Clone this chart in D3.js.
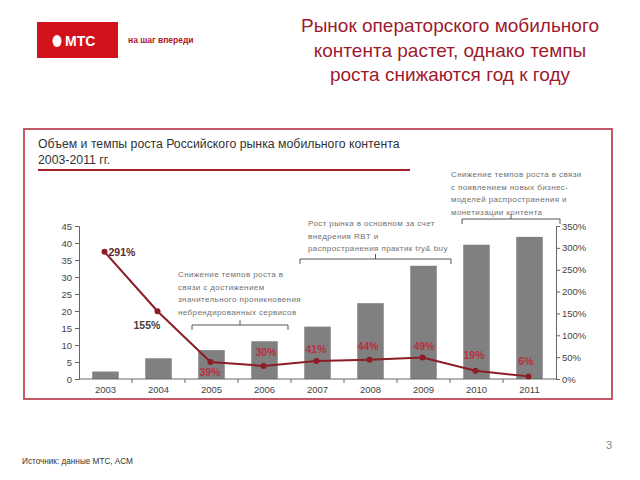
<!DOCTYPE html>
<html>
<head>
<meta charset="utf-8">
<script src="https://cdn.jsdelivr.net/npm/d3@7"></script>
<style>
  body { margin: 0; background: #fff; }
  svg { font-family: "Liberation Sans", Arial, sans-serif; }
  .axis path, .axis line { stroke: #666; }
  .axis text { fill: #444; font-size: 9.5px; }
</style>
</head>
<body>
<svg id="chart" width="640" height="480"></svg>
<script>
const years = ['2003', '2004', '2005', '2006', '2007', '2008', '2009', '2010', '2011'];
const volume = [2.2, 6.1, 8.5, 11.1, 15.4, 22.3, 33.3, 39.5, 41.8];
const growth = [291, 155, 39, 30, 41, 44, 49, 19, 6];
const volumeTicks = [0, 5, 10, 15, 20, 25, 30, 35, 40, 45];
const growthTicks = [0, 50, 100, 150, 200, 250, 300, 350];

const titleLines = ['Рынок операторского мобильного', 'контента растет, однако темпы', 'роста снижаются год к году'];
const subtitleLines = ['Объем и темпы роста Российского рынка мобильного контента', '2003-2011 гг.'];

const notes = [
  { from: '2005', to: '2006', lines: ['Снижение темпов роста в', 'связи с достижением', 'значительного проникновения', 'небрендированных сервисов'] },
  { from: '2007', to: '2009', lines: ['Рост рынка в основном за счет', 'внедрения RBT и', 'распространения практик try& buy'] },
  { from: '2010', to: '2011', lines: ['Снижение темпов роста в связи', 'с появлением новых бизнес-', 'моделей распространения и', 'монетизации контента'] }
];

const svg = d3.select('#chart');

// header
const logo = svg.append('g');
logo.append('rect').attr('x', 37).attr('y', 22).attr('width', 81).attr('height', 36).attr('fill', '#d1121b');
logo.append('ellipse').attr('cx', 57).attr('cy', 41).attr('rx', 4.5).attr('ry', 6).attr('fill', '#fff');
logo.append('text').attr('x', 65).attr('y', 46).attr('fill', '#fff')
  .style('font-size', '14px').style('font-weight', 'bold').text('МТС');
svg.append('text').attr('x', 128).attr('y', 43).attr('fill', '#b0141f')
  .style('font-size', '8.5px').style('font-weight', 'bold').text('на шаг впереди');

svg.append('g').selectAll('text')
  .data(titleLines)
  .join('text')
  .attr('x', 450)
  .attr('y', (d, i) => 32 + i * 24.5)
  .attr('text-anchor', 'middle')
  .attr('fill', '#9e1a2e')
  .style('font-size', '19px')
  .text(d => d);

// frame
svg.append('rect').attr('x', 24).attr('y', 129).attr('width', 588).attr('height', 270)
  .attr('fill', 'none').attr('stroke', '#c25a68').attr('stroke-width', 2);

svg.append('g').selectAll('text')
  .data(subtitleLines)
  .join('text')
  .attr('x', 38)
  .attr('y', (d, i) => 148 + i * 16)
  .attr('fill', '#333')
  .style('font-size', '12.3px')
  .text(d => d);
svg.append('line').attr('x1', 38).attr('x2', 410).attr('y1', 170).attr('y2', 170)
  .attr('stroke', '#a3202c').attr('stroke-width', 2);

// scales
const x = d3.scaleBand().domain(years).range([79, 556]).paddingInner(0.5).paddingOuter(0.25);
const xTick = d3.scaleBand().domain(years).range([79, 556]);
const yLeft = d3.scaleLinear().domain([0, 45]).range([379, 226]);
const yRight = d3.scaleLinear().domain([0, 350]).range([379, 226]);

svg.append('g').selectAll('rect')
  .data(years)
  .join('rect')
  .attr('x', d => x(d))
  .attr('width', x.bandwidth())
  .attr('y', (d, i) => yLeft(volume[i]))
  .attr('height', (d, i) => yLeft(0) - yLeft(volume[i]))
  .attr('fill', '#808080');

// axes
svg.append('g').attr('class', 'axis').attr('transform', 'translate(79,0)')
  .call(d3.axisLeft(yLeft).tickValues(volumeTicks).tickSize(4).tickPadding(3));
svg.append('g').attr('class', 'axis').attr('transform', 'translate(556,0)')
  .call(d3.axisRight(yRight).tickValues(growthTicks).tickSize(4).tickPadding(2).tickFormat(d => d + '%'));

const xAxis = svg.append('g').attr('class', 'axis').attr('transform', 'translate(0,379)');
xAxis.append('line').attr('x1', 79).attr('x2', 556).attr('stroke', '#666');
xAxis.selectAll('line.tick')
  .data(years.slice(1))
  .join('line')
  .attr('class', 'tick')
  .attr('x1', d => xTick(d)).attr('x2', d => xTick(d))
  .attr('y1', 0).attr('y2', 4)
  .attr('stroke', '#666');
xAxis.selectAll('text')
  .data(years)
  .join('text')
  .attr('x', d => xTick(d) + xTick.bandwidth() / 2)
  .attr('y', 14)
  .attr('text-anchor', 'middle')
  .text(d => d);

// growth line
const cx = d => xTick(d) + xTick.bandwidth() / 2 - 1;
const line = d3.line().x((d, i) => cx(years[i])).y(d => yRight(d));
svg.append('path').datum(growth)
  .attr('d', line)
  .attr('fill', 'none').attr('stroke', '#8c1c26').attr('stroke-width', 2);
svg.append('g').selectAll('circle')
  .data(growth)
  .join('circle')
  .attr('cx', (d, i) => cx(years[i]))
  .attr('cy', d => yRight(d))
  .attr('r', 3)
  .attr('fill', '#8c1c26');

// growth labels
const labelOffsets = [[4, 4, '#5a2a2a'], [-24, 18, '#4a3a3a'], [-11, 14, '#b8303e'],
  [-8, -10, '#b8303e'], [-11, -8, '#b8303e'], [-12, -10, '#b8303e'],
  [-9, -8, '#b8303e'], [-12, -12, '#b8303e'], [-10, -11, '#b8303e']];
svg.append('g').selectAll('text')
  .data(growth)
  .join('text')
  .attr('x', (d, i) => cx(years[i]) + labelOffsets[i][0])
  .attr('y', (d, i) => yRight(d) + labelOffsets[i][1])
  .attr('fill', (d, i) => labelOffsets[i][2])
  .style('font-size', '10.5px')
  .style('font-weight', 'bold')
  .text(d => d + '%');

// annotations with brackets
const notePos = [
  { x0: 192, x1: 288, y: 325, tx: 178, ty: 277 },
  { x0: 300, x1: 451, y: 259, tx: 308, ty: 226 },
  { x0: 462, x1: 560, y: 219, tx: 451, ty: 177 }
];
notes.forEach((n, k) => {
  const p = notePos[k];
  const g = svg.append('g');
  g.selectAll('text')
    .data(n.lines)
    .join('text')
    .attr('x', p.tx)
    .attr('y', (d, i) => p.ty + i * 12.5)
    .attr('fill', '#707070')
    .style('font-size', '8px')
    .style('letter-spacing', '0.4px')
    .text(d => d);
  const mid = (p.x0 + p.x1) / 2;
  g.append('path')
    .attr('d', `M${p.x0},${p.y + 5}V${p.y}H${p.x1}V${p.y + 5}M${mid},${p.y}V${p.y - 5}`)
    .attr('fill', 'none').attr('stroke', '#555').attr('stroke-width', 1);
});

// footer
svg.append('text').attr('x', 22).attr('y', 464).attr('fill', '#333')
  .style('font-size', '8.2px').text('Источник: данные МТС, АСМ');
svg.append('text').attr('x', 606).attr('y', 449).attr('fill', '#888')
  .style('font-size', '11px').text('3');
</script>
</body>
</html>
